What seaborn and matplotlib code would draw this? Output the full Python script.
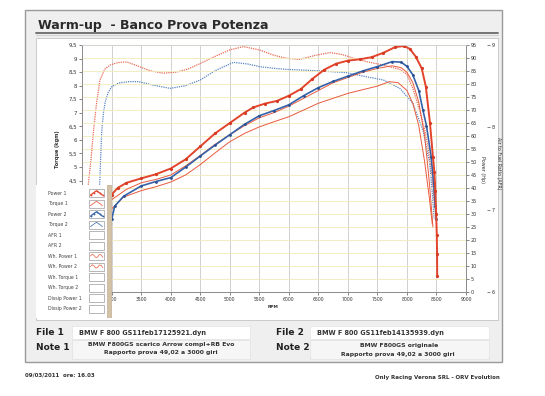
import matplotlib
matplotlib.use("Agg")
import matplotlib.pyplot as plt
import seaborn as sns
from matplotlib.patches import Rectangle
from matplotlib.lines import Line2D

# ---------------- data ----------------
p1_rpm = [3000, 3100, 3250, 3500, 3750, 4000, 4250, 4500, 4750, 5000, 5250, 5400, 5600, 5800,
          6000, 6200, 6400, 6600, 6800, 7000, 7200, 7400, 7600, 7800, 7950, 8050, 8150, 8250,
          8320, 8390, 8440, 8465, 8480, 8495, 8505, 8510, 8512]
p1_hp = [37.5, 40, 42, 43.7, 45.3, 47.5, 51, 56, 61, 65, 69, 71, 72.5, 73.5,
         75.5, 78, 82, 85.5, 87.8, 89, 89.5, 90.3, 92, 94.2, 94.6, 93.5, 90.5, 86,
         79, 65, 52, 46, 39, 30, 22, 14.5, 6]

p2_rpm = [3000, 3050, 3200, 3500, 3750, 4000, 4250, 4500, 4750, 5000, 5250, 5500, 5750, 6000,
          6250, 6500, 6750, 7000, 7250, 7500, 7750, 7900, 8000, 8100, 8200, 8270, 8330, 8410,
          8450, 8480, 8495]
p2_hp = [28, 33, 36.8, 40.8, 42.5, 44, 48, 52.3, 56.5, 60.5, 64.5, 67.8, 69.8, 72,
         75.5, 78.6, 81, 83, 85, 86.7, 88.6, 88.4, 86.8, 83.5, 77.5, 70, 64, 52,
         42, 33, 28]

wp1_rpm = [3000, 3250, 3500, 3750, 4000, 4250, 4500, 4750, 5000, 5250, 5500, 5750, 6000, 6250,
           6500, 6750, 7000, 7250, 7500, 7750, 7900, 8000, 8100, 8200, 8300, 8380, 8440]
wp1_hp = [35.5, 39.5, 42, 43.3, 45, 48.5, 52.5, 56.8, 60.5, 64, 67, 69, 71.5, 74.5,
          77.5, 80.5, 82.5, 84.5, 86, 87, 86.3, 84.5, 80.5, 73, 60, 42, 25]

wp2_rpm = [3000, 3200, 3500, 3750, 4000, 4250, 4500, 4750, 5000, 5250, 5500, 5750, 6000, 6250,
           6500, 6750, 7000, 7250, 7500, 7700, 7850, 8000, 8100, 8200, 8300, 8380, 8430]
wp2_hp = [32, 36.5, 39, 40.5, 42.3, 45, 49, 53.5, 57.8, 61, 63.5, 65.5, 67.4, 70,
          72.6, 74.5, 76.4, 77.8, 79.2, 80.9, 80.5, 77.5, 72.5, 64, 50, 36, 26]

t1_rpm = [2580, 2600, 2650, 2690, 2740, 2800, 2880, 2970, 3100, 3250, 3450, 3650, 3870, 4100,
          4300, 4500, 4750, 5000, 5230, 5500, 5750, 5960, 6180, 6450, 6700, 6900, 7100, 7350,
          7600, 7880, 8000, 8100, 8200, 8300, 8360, 8420, 8470]
t1_kgm = [3.6, 4.3, 5.3, 6.3, 7.3, 8.2, 8.6, 8.76, 8.85, 8.88, 8.72, 8.55, 8.46, 8.5,
          8.62, 8.82, 9.08, 9.32, 9.44, 9.32, 9.12, 9.01, 8.97, 9.12, 9.22, 9.15, 9.01, 8.87,
          8.76, 8.6, 8.42, 7.9, 7.2, 6.4, 5.7, 4.7, 3.5]

t2_rpm = [2780, 2800, 2830, 2860, 2890, 2940, 3000, 3120, 3300, 3450, 3700, 3990, 4250, 4500,
          4750, 5060, 5300, 5510, 5750, 5960, 6200, 6470, 6700, 6975, 7150, 7310, 7600, 7880,
          8100, 8270, 8385, 8430, 8460]
t2_kgm = [3.6, 4.6, 6.3, 7.0, 7.4, 7.75, 7.96, 8.1, 8.15, 8.15, 8.02, 7.9, 8.0, 8.21,
          8.55, 8.86, 8.8, 8.7, 8.64, 8.6, 8.58, 8.55, 8.52, 8.48, 8.4, 8.33, 8.21, 7.9,
          7.35, 6.36, 5.13, 4.0, 3.1]

x_ticks = list(range(3000, 9001, 500))
torque_ticks = [4.5, 5, 5.5, 6, 6.5, 7, 7.5, 8, 8.5, 9, 9.5]
power_ticks = list(range(0, 96, 5))
afr_ticks = [6, 7, 8, 9]

legend_labels = ["Power 1", "Torque 1", "Power 2", "Torque 2", "AFR 1", "AFR 2",
                 "Wh. Power 1", "Wh. Power 2", "Wh. Torque 1", "Wh. Torque 2",
                 "Dissip Power 1", "Dissip Power 2"]

title = "Warm-up  - Banco Prova Potenza"
file1 = "BMW F 800 GS11feb17125921.dyn"
file2 = "BMW F 800 GS11feb14135939.dyn"
note1 = ["BMW F800GS scarico Arrow compl+RB Evo", "Rapporto prova 49,02 a 3000 giri"]
note2 = ["BMW F800GS originale", "Rapporto prova 49,02 a 3000 giri"]
footer_left = "09/03/2011  ore: 16.03"
footer_right = "Only Racing Verona SRL - ORV Evolution"

# ---------------- styling ----------------
RED = "#e2442c"
RED_T = "#ea6a52"
RED_W = "#e95a3e"
BLUE = "#3462aa"
BLUE_T = "#5b86c4"

sns.set_style("white")
plt.rcParams["font.family"] = ["DejaVu Sans"]

W, H = 545, 396
fig = plt.figure(figsize=(5.45, 3.96), dpi=100)
fig.patch.set_facecolor("white")


def rect(x0, y0, x1, y1):
    return [x0 / W, 1 - y1 / H, (x1 - x0) / W, (y1 - y0) / H]


def fbox(x0, y0, x1, y1, fc, ec, lw=0.6, z=-5):
    fig.add_artist(Rectangle((x0 / W, 1 - y1 / H), (x1 - x0) / W, (y1 - y0) / H,
                             transform=fig.transFigure, facecolor=fc, edgecolor=ec,
                             linewidth=lw, zorder=z))


def ftext(x, y, s, **kw):
    fig.text(x / W, 1 - y / H, s, **kw)


# outer frame
fbox(25, 10, 502, 362, "#efefef", "#9a9a9a", lw=1.0, z=-10)
ftext(38, 25, title, fontsize=9, fontweight="bold", color="#2a2a2a", va="center", ha="left")
fig.add_artist(Line2D([36 / W, 498 / W], [1 - 33 / H, 1 - 33 / H], transform=fig.transFigure,
                      color="#6a6a6a", lw=1.3, zorder=-4))
fig.add_artist(Line2D([36 / W, 498 / W], [1 - 34.5 / H, 1 - 34.5 / H], transform=fig.transFigure,
                      color="#d0d0d0", lw=0.8, zorder=-4))
# inner white panel
fbox(36, 38, 498, 320, "white", "#c4c4c4", lw=0.6, z=-8)

# ---------------- main axes ----------------
ax = fig.add_axes(rect(82.2, 45, 466, 292))
ax.set_facecolor("white")
ax2 = ax.twinx()
ax3 = ax.twinx()

sns.lineplot(x=t1_rpm, y=t1_kgm, ax=ax, color=RED_T, ls=(0, (1, 0.8)), lw=0.9,
             sort=False, estimator=None)
sns.lineplot(x=t2_rpm, y=t2_kgm, ax=ax, color=BLUE_T, ls=(0, (1, 0.8)), lw=0.9,
             sort=False, estimator=None)

sns.lineplot(x=wp2_rpm, y=wp2_hp, ax=ax2, color=RED_W, lw=0.7, sort=False, estimator=None)
sns.lineplot(x=wp1_rpm, y=wp1_hp, ax=ax2, color=RED_W, lw=0.7, sort=False, estimator=None)
sns.lineplot(x=p2_rpm, y=p2_hp, ax=ax2, color=BLUE, lw=1.2, marker="o", markersize=2.0,
             markeredgewidth=0, markerfacecolor="#2a4f90", sort=False, estimator=None)
sns.lineplot(x=p1_rpm, y=p1_hp, ax=ax2, color=RED, lw=1.4, marker="o", markersize=2.3,
             markeredgewidth=0, markerfacecolor="#d63a22", sort=False, estimator=None)

for a in (ax, ax2, ax3):
    a.set_xlim(2500, 9000)
    a.set_xlabel("")
    a.set_ylabel("")

ax.set_ylim(0.39, 9.5)
ax2.set_ylim(0, 95)
ax3.set_ylim(6, 9)

ax.set_xticks(x_ticks)
ax.set_xticklabels([str(v) for v in x_ticks])
ax.set_yticks(torque_ticks)
ax.set_yticklabels([("%g" % v).replace(".", ",") for v in torque_ticks])
ax2.set_yticks(power_ticks)
ax2.set_yticklabels([str(v) for v in power_ticks])
ax3.set_yticks(afr_ticks)
ax3.set_yticklabels([str(v) for v in afr_ticks])

ax.grid(axis="x", color="#c9c9c9", lw=0.6)
ax.grid(axis="y", visible=False)
ax2.grid(axis="y", color="#f0eab8", lw=0.6)
ax2.grid(axis="x", visible=False)
ax3.grid(False)

ax.tick_params(axis="x", labelsize=3.3, length=2, width=0.5, pad=1.5, colors="#555",
               labelcolor="#333", bottom=True)
ax.tick_params(axis="y", labelsize=3.9, length=2.5, width=0.5, pad=1, colors="#555",
               labelcolor="#333", left=True)
ax2.tick_params(axis="y", labelsize=3.5, length=2.5, width=0.5, pad=1, colors="#555",
                labelcolor="#333", right=True)
ax3.tick_params(axis="y", labelsize=3.5, length=2.5, width=0.5, pad=1, colors="#555",
                labelcolor="#333", right=True)

for a in (ax, ax2):
    for s in a.spines.values():
        s.set_color("#8a8a8a")
        s.set_linewidth(0.6)
    a.spines["top"].set_color("#cfcfcf")
ax3.spines["right"].set_position(("axes", 1 + 21 / 383.8))
for s in ax3.spines.values():
    s.set_visible(False)

# axis titles
ftext(58, 149, "Torque (kgm)", fontsize=3.6, fontweight="bold", rotation=90,
      ha="center", va="center", color="#333")
ftext(483, 170, "Power (Hp)", fontsize=3.5, rotation=270, ha="center", va="center", color="#333")
ftext(499, 163, "Air to Fuel Ratio (AFR)", fontsize=3.4, rotation=270, ha="center",
      va="center", color="#333")
ftext(273, 306.5, "RPM", fontsize=3.2, fontweight="bold", ha="center", va="center", color="#333")

# ---------------- legend panel ----------------
leg = fig.add_axes(rect(36, 185, 112, 318))
leg.set_zorder(20)
leg.set_facecolor("white")
leg.set_xlim(36, 112)
leg.set_ylim(318, 185)
leg.set_xticks([])
leg.set_yticks([])
for s in leg.spines.values():
    s.set_visible(False)
leg.add_patch(Rectangle((107, 185), 4, 133, facecolor="#d4c2a8", edgecolor="#b8a080", lw=0.4))

icons = ["peakm_r", "peak_r", "peakm_b", "peak_b", None, None, "wave", "wave",
         None, None, None, None]
for i, lab in enumerate(legend_labels):
    yy = 193 + 10.5 * i
    leg.text(48, yy, lab, fontsize=3.3, ha="left", va="center", color="#444")
    leg.add_patch(Rectangle((89, yy - 4), 15, 8, facecolor="white", edgecolor="#9a9a9a", lw=0.5))
    kind = icons[i]
    if kind and kind.startswith("peak"):
        xs = [90.5, 93.5, 96.5, 99.5, 102.5]
        ys = [yy + 2.2, yy - 0.2, yy - 2.2, yy - 0.2, yy + 2.2]
        col = RED if kind.endswith("r") else BLUE
        if kind.startswith("peakm"):
            leg.plot(xs, ys, color=col, lw=0.9, marker="o", ms=1.3, mew=0)
        else:
            leg.plot(xs, ys, color=col, lw=0.5)
    elif kind == "wave":
        xs = [90.5, 92.2, 94, 95.8, 97.6, 99.4, 101.2, 102.8]
        ys = [yy, yy - 1.8, yy - 0.6, yy + 1.5, yy + 1.0, yy - 1.5, yy - 1.2, yy + 1.2]
        leg.plot(xs, ys, color=RED_W, lw=0.5)

# ---------------- bottom info panel ----------------
ftext(36, 332.5, "File 1", fontsize=6.5, fontweight="bold", ha="left", va="center", color="#222")
ftext(36, 347.5, "Note 1", fontsize=6.5, fontweight="bold", ha="left", va="center", color="#222")
ftext(276, 332.5, "File 2", fontsize=6.5, fontweight="bold", ha="left", va="center", color="#222")
ftext(276, 347.5, "Note 2", fontsize=6.5, fontweight="bold", ha="left", va="center", color="#222")

fbox(72, 326, 250, 338.5, "white", "#e2e2e2", lw=0.5, z=-3)
fbox(72, 340, 250, 359, "#f6f6f6", "#e2e2e2", lw=0.5, z=-3)
fbox(310, 326, 489, 338.5, "white", "#e2e2e2", lw=0.5, z=-3)
fbox(310, 340, 489, 359, "#f6f6f6", "#e2e2e2", lw=0.5, z=-3)

ftext(79, 332.5, file1, fontsize=4.7, fontweight="bold", ha="left", va="center", color="#333")
ftext(317, 332.5, file2, fontsize=4.7, fontweight="bold", ha="left", va="center", color="#333")
ftext(161, 344.5, note1[0], fontsize=4.4, fontweight="bold", ha="center", va="center", color="#333")
ftext(161, 352.8, note1[1], fontsize=4.4, fontweight="bold", ha="center", va="center", color="#333")
ftext(399, 346, note2[0], fontsize=4.4, fontweight="bold", ha="center", va="center", color="#333")
ftext(398, 354.3, note2[1], fontsize=4.4, fontweight="bold", ha="center", va="center", color="#333")

ftext(25, 375, footer_left, fontsize=4.0, fontweight="bold", ha="left", va="center", color="#333")
ftext(500, 377, footer_right, fontsize=4.0, fontweight="bold", ha="right", va="center", color="#333")

fig.savefig("out.png", dpi=100)
